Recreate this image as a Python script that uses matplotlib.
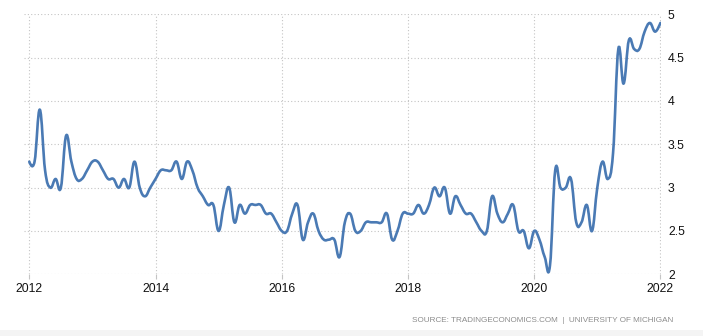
import numpy as np
import matplotlib
matplotlib.use("Agg")
import matplotlib.pyplot as plt
from matplotlib.path import Path
from matplotlib.patches import PathPatch, Rectangle

# monthly values, Jan 2012 .. Jan 2022
start_year = 2012
values = [
    3.3, 3.3, 3.9, 3.2, 3.0, 3.1, 3.0, 3.6, 3.3, 3.1, 3.1, 3.2,   # 2012
    3.3, 3.3, 3.2, 3.1, 3.1, 3.0, 3.1, 3.0, 3.3, 3.0, 2.9, 3.0,   # 2013
    3.1, 3.2, 3.2, 3.2, 3.3, 3.1, 3.3, 3.2, 3.0, 2.9, 2.8, 2.8,   # 2014
    2.5, 2.8, 3.0, 2.6, 2.8, 2.7, 2.8, 2.8, 2.8, 2.7, 2.7, 2.6,   # 2015
    2.5, 2.5, 2.7, 2.8, 2.4, 2.6, 2.7, 2.5, 2.4, 2.4, 2.4, 2.2,   # 2016
    2.6, 2.7, 2.5, 2.5, 2.6, 2.6, 2.6, 2.6, 2.7, 2.4, 2.5, 2.7,   # 2017
    2.7, 2.7, 2.8, 2.7, 2.8, 3.0, 2.9, 3.0, 2.7, 2.9, 2.8, 2.7,   # 2018
    2.7, 2.6, 2.5, 2.5, 2.9, 2.7, 2.6, 2.7, 2.8, 2.5, 2.5, 2.3,   # 2019
    2.5, 2.4, 2.2, 2.1, 3.2, 3.0, 3.0, 3.1, 2.6, 2.6, 2.8, 2.5,   # 2020
    3.0, 3.3, 3.1, 3.4, 4.6, 4.2, 4.7, 4.6, 4.6, 4.8, 4.9, 4.8,   # 2021
    4.9,                                                          # 2022
]
x_ticks = [2012, 2014, 2016, 2018, 2020, 2022]
y_ticks = [2, 2.5, 3, 3.5, 4, 4.5, 5]
source = "SOURCE: TRADINGECONOMICS.COM  |  UNIVERSITY OF MICHIGAN"

x = start_year + np.arange(len(values)) / 12.0
y = np.array(values)


def spline_path(xs, ys, smoothing=1.5):
    # smooth curve through the points (bezier, no clamping of extremes)
    denom = smoothing + 1
    n = len(xs)
    lcx, lcy = xs.copy(), ys.copy()
    rcx, rcy = xs.copy(), ys.copy()
    for i in range(1, n - 1):
        px, py = xs[i], ys[i]
        lx, ly = xs[i - 1], ys[i - 1]
        nx, ny = xs[i + 1], ys[i + 1]
        a_x = (smoothing * px + lx) / denom
        a_y = (smoothing * py + ly) / denom
        b_x = (smoothing * px + nx) / denom
        b_y = (smoothing * py + ny) / denom
        corr = (b_y - a_y) * (b_x - px) / (b_x - a_x) + py - b_y
        lcx[i], lcy[i], rcx[i], rcy[i] = a_x, a_y + corr, b_x, b_y + corr
    verts = [(xs[0], ys[0])]
    codes = [Path.MOVETO]
    for i in range(1, n):
        verts += [(rcx[i - 1], rcy[i - 1]), (lcx[i], lcy[i]), (xs[i], ys[i])]
        codes += [Path.CURVE4] * 3
    return Path(verts, codes)


plt.rcParams["font.family"] = ["Liberation Sans", "DejaVu Sans"]

fig = plt.figure(figsize=(7.03, 3.36), dpi=100)
W, H = 703.0, 336.0
ax = fig.add_axes([24 / W, 1 - 274.3 / H, 637 / W, 260 / H])

ax.add_patch(PathPatch(spline_path(x, y), fill=False, edgecolor="#4a7ab4",
                       linewidth=1.9, capstyle="round", joinstyle="round"))

ax.set_xlim(2012 - 5.3 / 63.1, 2022 + 0.6 / 63.1)
ax.set_ylim(2, 5)
ax.set_xticks(x_ticks)
ax.set_xticklabels([str(t) for t in x_ticks])
ax.set_yticks(y_ticks)
ax.set_yticklabels(["%g" % t for t in y_ticks])
ax.yaxis.tick_right()

ax.grid(True, color="#c4c4c4", linestyle=(0, (1, 2)), linewidth=0.8)
ax.set_axisbelow(True)
for s in ax.spines.values():
    s.set_visible(False)

ax.tick_params(axis="x", length=3.5, width=0.8, color="#c4c4c4",
               pad=3, labelsize=8.8, labelcolor="#111111")
ax.tick_params(axis="y", length=0, pad=5, labelsize=8.8,
               labelcolor="#111111")
for lbl in ax.get_yticklabels():
    lbl.set_horizontalalignment("left")

fig.text(673 / W, 1 - 320 / H, source, ha="right", va="center",
         fontsize=5.9, color="#8c8c8c")
fig.patches.append(Rectangle((0, 0), 1, 6 / H, transform=fig.transFigure,
                             facecolor="#f4f4f4", edgecolor="none"))

fig.savefig("out.png", dpi=100)
